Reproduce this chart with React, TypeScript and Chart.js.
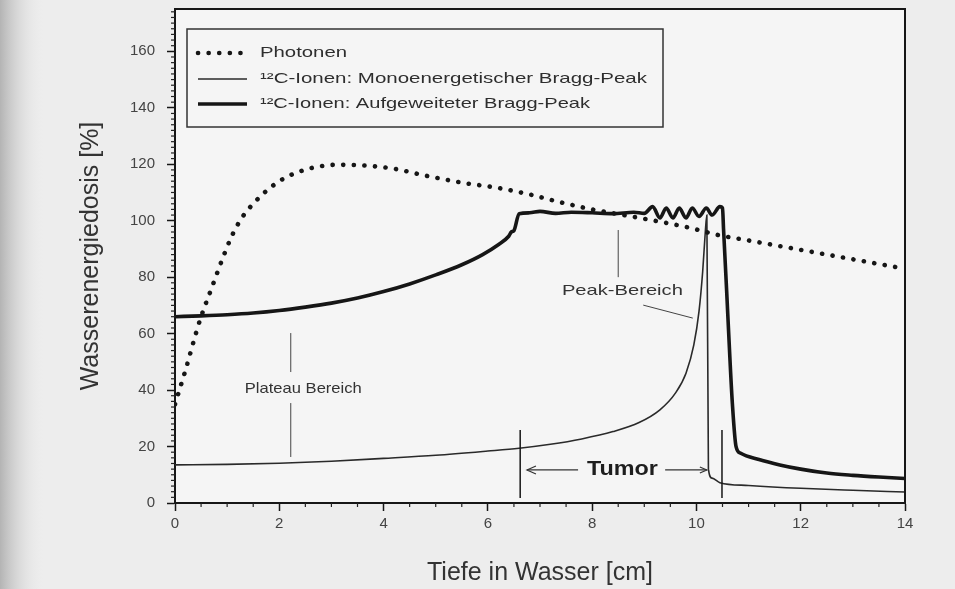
import React, { useEffect, useRef } from 'react';
import { Chart, registerables } from 'chart.js';

Chart.register(...registerables);

// ---------- data ----------
const photonDepth = [0, 0.2, 0.4, 0.5, 0.7, 0.9, 1.1, 1.3, 1.5, 1.75, 2.0, 2.3, 2.7, 3.1, 3.6, 4.2, 4.8, 5.5, 6.2, 6.8, 7.4, 8.0, 8.6, 9.2, 9.8, 10.4, 11.0, 11.6, 12.2, 12.8, 13.4, 14.0];
const photonDose = [35, 47, 60, 66, 76, 86, 95, 101.5, 106, 110.5, 114, 116.8, 119, 119.8, 119.6, 118.4, 116, 113.5, 111.6, 109.3, 106.5, 104, 102, 100, 97.8, 95, 93, 91, 89, 87, 85, 83];

const monoDepth = [0, 1, 2, 3, 4, 5, 6, 6.6, 7.2, 7.8, 8.4, 8.9, 9.3, 9.6, 9.8, 9.95, 10.05, 10.12, 10.17, 10.2, 10.23, 10.3, 10.45, 11, 12, 13, 14];
const monoDose = [13.5, 13.7, 14.1, 14.8, 15.8, 16.9, 18.4, 19.4, 20.8, 22.7, 25.3, 28.5, 33, 39, 46, 56, 68, 82, 96, 102, 12, 8.8, 7.2, 6.2, 5.2, 4.5, 3.9];

const sobpDepth = [0, 0.5, 1, 1.5, 2, 2.5, 3, 3.5, 4, 4.5, 5, 5.5, 5.9, 6.2, 6.4, 6.45, 6.5, 6.6, 6.8, 7.0, 7.3, 7.6, 8.0, 8.4, 8.8, 9.0, 9.16, 9.3, 9.42, 9.55, 9.67, 9.8, 9.92, 10.05, 10.19, 10.3, 10.45, 10.5, 10.52, 10.58, 10.64, 10.69, 10.76, 10.85, 11.2, 11.6, 12, 12.5, 13, 13.5, 14];
const sobpDose = [66, 66.3, 66.7, 67.3, 68.2, 69.4, 70.8, 72.6, 74.9, 77.6, 80.8, 84.4, 88, 91.5, 94.5, 96, 96.5, 102.5, 102.8, 103.3, 102.6, 103, 102.8, 102.5, 103, 102.6, 105, 101, 104.5, 101, 104.5, 101, 104.5, 101.5, 104.5, 102, 105, 104.5, 97, 75, 52, 35, 20, 17.6, 15.4, 13.5, 12, 10.6, 9.8, 9.2, 8.7];

const xTickValues = [0, 2, 4, 6, 8, 10, 12, 14];
const yTickValues = [0, 20, 40, 60, 80, 100, 120, 140, 160];

const seriesLabels = [
  'Photonen',
  '¹²C-Ionen: Monoenergetischer Bragg-Peak',
  '¹²C-Ionen: Aufgeweiteter Bragg-Peak',
];

const xTitle = 'Tiefe in Wasser [cm]';
const yTitle = 'Wasserenergiedosis [%]';

// ---------- styling ----------
const FONT = '"Liberation Sans", Arial, Helvetica, sans-serif';
const INK = '#161616';
const TEXT = '#333333';

const toPoints = (xs: number[], ys: number[]) => xs.map((x, i) => ({ x, y: ys[i] }));

function fitText(ctx: CanvasRenderingContext2D, text: string, x: number, y: number, targetW: number, font: string, color: string, align: 'left' | 'center' = 'left') {
  ctx.save();
  ctx.font = font;
  ctx.fillStyle = color;
  ctx.textBaseline = 'middle';
  ctx.textAlign = 'left';
  const w = ctx.measureText(text).width;
  const s = targetW / w;
  const left = align === 'center' ? x - targetW / 2 : x;
  ctx.translate(left, y);
  ctx.scale(s, 1);
  ctx.fillText(text, 0, 0);
  ctx.restore();
}

const decorPlugin = {
  id: 'decor',
  beforeDraw(chart: any) {
    const { ctx, width, height, chartArea } = chart;
    ctx.save();
    ctx.fillStyle = '#ededed';
    ctx.fillRect(0, 0, width, height);
    const g = ctx.createLinearGradient(0, 0, 45, 0);
    g.addColorStop(0, '#b4b4b4');
    g.addColorStop(1, 'rgba(237,237,237,0)');
    ctx.fillStyle = g;
    ctx.fillRect(0, 0, 45, height);
    ctx.fillStyle = '#f5f5f5';
    ctx.fillRect(chartArea.left, chartArea.top, chartArea.right - chartArea.left, chartArea.bottom - chartArea.top);
    ctx.restore();
  },
  afterDatasetsDraw(chart: any) {
    const { ctx } = chart;
    const xs = chart.scales.x;
    const ys = chart.scales.y;
    const X = (v: number) => xs.getPixelForValue(v);
    const Y = (v: number) => ys.getPixelForValue(v);
    ctx.save();
    ctx.strokeStyle = '#444';
    ctx.lineWidth = 1;
    const line = (x1: number, y1: number, x2: number, y2: number) => {
      ctx.beginPath();
      ctx.moveTo(X(x1), Y(y1));
      ctx.lineTo(X(x2), Y(y2));
      ctx.stroke();
    };
    // Plateau Bereich
    line(2.22, 60.2, 2.22, 46.4);
    line(2.22, 35.4, 2.22, 16.3);
    fitText(ctx, 'Plateau Bereich', X(2.46), Y(40.4), 117, `15px ${FONT}`, TEXT, 'center');
    // Peak-Bereich
    line(8.5, 96.7, 8.5, 80);
    line(8.98, 70.1, 9.93, 65.5);
    fitText(ctx, 'Peak-Bereich', X(8.58), Y(75.1), 121, `15px ${FONT}`, TEXT, 'center');
    // Tumor markers
    ctx.strokeStyle = INK;
    ctx.lineWidth = 1.5;
    line(6.62, 1.8, 6.62, 25.9);
    line(10.49, 1.8, 10.49, 25.9);
    ctx.strokeStyle = '#333';
    ctx.lineWidth = 1.2;
    line(6.75, 11.7, 7.73, 11.7);
    line(9.4, 11.7, 10.2, 11.7);
    // arrow heads
    const ay = Y(11.7);
    ctx.beginPath();
    ctx.moveTo(X(6.75) + 9, ay - 4);
    ctx.lineTo(X(6.75), ay);
    ctx.lineTo(X(6.75) + 9, ay + 4);
    ctx.stroke();
    ctx.beginPath();
    ctx.moveTo(X(10.2) - 7, ay - 3);
    ctx.lineTo(X(10.2), ay);
    ctx.lineTo(X(10.2) - 7, ay + 3);
    ctx.stroke();
    fitText(ctx, 'Tumor', X(8.58), ay, 71, `bold 20px ${FONT}`, '#1e1e1e', 'center');
    ctx.restore();
  },
  afterDraw(chart: any) {
    const { ctx, chartArea } = chart;
    const xs = chart.scales.x;
    const ys = chart.scales.y;
    ctx.save();
    // frame (top + right)
    ctx.strokeStyle = INK;
    ctx.lineWidth = 2;
    ctx.beginPath();
    ctx.moveTo(chartArea.left, chartArea.top);
    ctx.lineTo(chartArea.right, chartArea.top);
    ctx.lineTo(chartArea.right, chartArea.bottom);
    ctx.stroke();
    // minor ticks
    ctx.lineWidth = 1.2;
    ctx.strokeStyle = '#222';
    for (let v = 2; v < 175; v += 2) {
      if (v % 20 === 0) continue;
      const py = ys.getPixelForValue(v);
      ctx.beginPath();
      ctx.moveTo(chartArea.left - 4, py);
      ctx.lineTo(chartArea.left, py);
      ctx.stroke();
    }
    for (let v = 0.5; v < 14; v += 0.5) {
      if (Math.abs(v % 2) < 1e-6) continue;
      const px = xs.getPixelForValue(v);
      ctx.beginPath();
      ctx.moveTo(px, chartArea.bottom);
      ctx.lineTo(px, chartArea.bottom + 4);
      ctx.stroke();
    }
    // legend box
    const lx = chartArea.left + 12;
    const ly = chartArea.top + 20;
    const lw = 476;
    const lh = 98;
    ctx.fillStyle = '#f5f5f5';
    ctx.fillRect(lx, ly, lw, lh);
    ctx.strokeStyle = '#333';
    ctx.lineWidth = 1.5;
    ctx.strokeRect(lx, ly, lw, lh);
    const rows = [ly + 24, ly + 50, ly + 75];
    const sx1 = lx + 11;
    const sx2 = lx + 60;
    const ds = chart.data.datasets;
    ds.forEach((d: any, i: number) => {
      ctx.save();
      ctx.strokeStyle = d.borderColor;
      ctx.lineWidth = d.borderWidth;
      ctx.lineCap = d.borderCapStyle || 'butt';
      ctx.setLineDash(d.borderDash || []);
      ctx.beginPath();
      ctx.moveTo(sx1, rows[i]);
      ctx.lineTo(sx2, rows[i]);
      ctx.stroke();
      ctx.restore();
    });
    const widths = [87, 387, 330];
    ds.forEach((d: any, i: number) => {
      fitText(ctx, d.label, lx + 73, rows[i], widths[i], `15px ${FONT}`, '#2e2e2e');
    });
    ctx.restore();
  },
};

export default function App() {
  const ref = useRef<HTMLCanvasElement | null>(null);

  useEffect(() => {
    document.body.style.margin = '0';
    const canvas = ref.current;
    if (!canvas) return;
    const chart = new Chart(canvas, {
      type: 'line',
      data: {
        datasets: [
          {
            label: seriesLabels[0],
            data: toPoints(photonDepth, photonDose),
            borderColor: INK,
            borderWidth: 4.6,
            borderDash: [0.1, 10.5],
            borderCapStyle: 'round',
            pointRadius: 0,
            cubicInterpolationMode: 'monotone',
            fill: false,
          },
          {
            label: seriesLabels[1],
            data: toPoints(monoDepth, monoDose),
            borderColor: '#2a2a2a',
            borderWidth: 1.6,
            pointRadius: 0,
            cubicInterpolationMode: 'monotone',
            fill: false,
          },
          {
            label: seriesLabels[2],
            data: toPoints(sobpDepth, sobpDose),
            borderColor: INK,
            borderWidth: 3.6,
            pointRadius: 0,
            cubicInterpolationMode: 'monotone',
            fill: false,
          },
        ],
      },
      options: {
        animation: false,
        responsive: false,
        maintainAspectRatio: false,
        layout: { padding: { left: 0, right: 50, top: 9, bottom: 0 } },
        plugins: {
          legend: { display: false },
          tooltip: { enabled: false },
        },
        scales: {
          x: {
            type: 'linear',
            min: 0,
            max: 14,
            afterBuildTicks: (scale: any) => {
              scale.ticks = xTickValues.map((v) => ({ value: v }));
            },
            afterFit: (scale: any) => {
              scale.height = 86;
              scale.paddingLeft = 0;
              scale.paddingRight = 0;
            },
            grid: { drawOnChartArea: false, drawTicks: true, tickLength: 8, color: INK, tickWidth: 1.5 },
            border: { display: true, color: INK, width: 2 },
            ticks: {
              padding: 4,
              color: '#444',
              font: { family: FONT, size: 15 },
              maxRotation: 0,
              autoSkip: false,
            },
            title: {
              display: true,
              text: xTitle,
              color: TEXT,
              font: { family: FONT, size: 25 },
              padding: { top: 0, bottom: 1 },
            },
          },
          y: {
            type: 'linear',
            min: 0,
            max: 175,
            afterBuildTicks: (scale: any) => {
              scale.ticks = yTickValues.map((v) => ({ value: v }));
            },
            afterFit: (scale: any) => {
              scale.width = 175;
              scale.paddingTop = 0;
              scale.paddingBottom = 0;
            },
            grid: { drawOnChartArea: false, drawTicks: true, tickLength: 8, color: INK, tickWidth: 1.5 },
            border: { display: true, color: INK, width: 2 },
            ticks: {
              padding: 12,
              color: '#444',
              font: { family: FONT, size: 15 },
              autoSkip: false,
            },
            title: {
              display: true,
              text: yTitle,
              color: TEXT,
              font: { family: FONT, size: 25 },
              padding: { top: 76, bottom: 0 },
            },
          },
        },
      },
      plugins: [decorPlugin],
    } as any);
    return () => chart.destroy();
  }, []);

  return (
    <div style={{ position: 'fixed', left: 0, top: 0, width: 955, height: 589 }}>
      <canvas ref={ref} width={955} height={589} style={{ display: 'block', width: 955, height: 589 }} />
    </div>
  );
}
